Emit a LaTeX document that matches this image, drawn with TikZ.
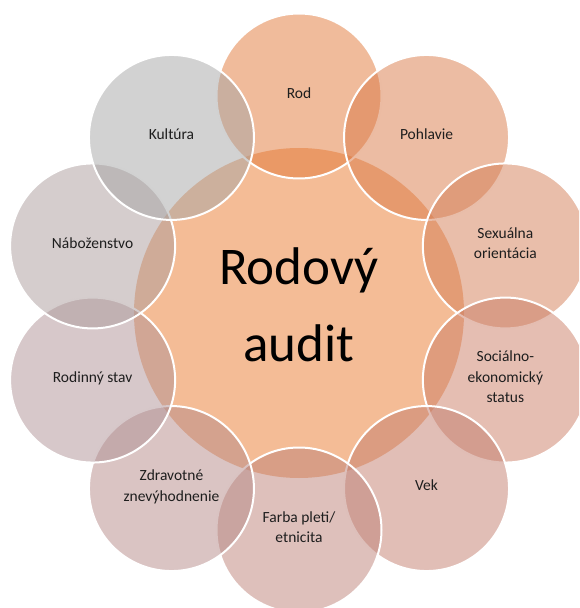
\documentclass[tikz,border=0pt]{standalone}
\usepackage{fontspec}
\setmainfont{Carlito}

%% colours
\definecolor{hubfill}{RGB}{244,188,150}
\definecolor{labeltext}{RGB}{30,30,30}
\definecolor{petalA}{RGB}{225,119,55}
\definecolor{petalB}{RGB}{217,121,71}
\definecolor{petalC}{RGB}{211,125,85}
\definecolor{petalD}{RGB}{203,125,101}
\definecolor{petalE}{RGB}{195,125,109}
\definecolor{petalF}{RGB}{189,129,119}
\definecolor{petalG}{RGB}{181,137,135}
\definecolor{petalH}{RGB}{175,145,149}
\definecolor{petalI}{RGB}{171,155,155}
\definecolor{petalJ}{RGB}{165,165,165}

\tikzset{
  hub/.style={circle, fill=hubfill, minimum size=330pt, inner sep=0pt},
  hubtext/.style={align=center, text=black, font=\fontsize{53}{77}\selectfont},
  petal/.style={circle, draw=white, line width=2pt, fill opacity=0.5,
    text opacity=1, minimum size=165pt, inner sep=0pt, align=center,
    text depth=6pt, text=labeltext, font=\fontsize{15.5}{20.5}\selectfont}
}

\begin{document}
\begin{tikzpicture}[x=1pt,y=1pt]

\useasboundingbox (-299,313) rectangle (280,-295);
\clip (-299,313) rectangle (280,-295);

%% centre
\node[hub] (audit) at (0,0) {};
\node[hubtext] (title) at ([yshift=8pt]audit.center) {Rodový\\audit};

%% petals, clockwise from the top
\node[petal, fill=petalA] (rod)     at (90:217)   {Rod};
\node[petal, fill=petalB] (pohl)    at (54:217)   {Pohlavie};
\node[petal, fill=petalC] (orient)  at (18:217)   {Sexuálna\\orientácia};
\node[petal, fill=petalD] (status)  at (-18:217)  {Sociálno-\\ekonomický\\status};
\node[petal, fill=petalE] (vek)     at (-54:217)  {Vek};
\node[petal, fill=petalF] (etnic)   at (-90:217)  {Farba pleti/\\etnicita};
\node[petal, fill=petalG] (zdrav)   at (-126:217) {Zdravotné\\znevýhodnenie};
\node[petal, fill=petalH] (stav)    at (-162:217) {Rodinný stav};
\node[petal, fill=petalI] (nabozen) at (162:217)  {Náboženstvo};
\node[petal, fill=petalJ] (kultura) at (126:217)  {Kultúra};

\end{tikzpicture}
\end{document}
